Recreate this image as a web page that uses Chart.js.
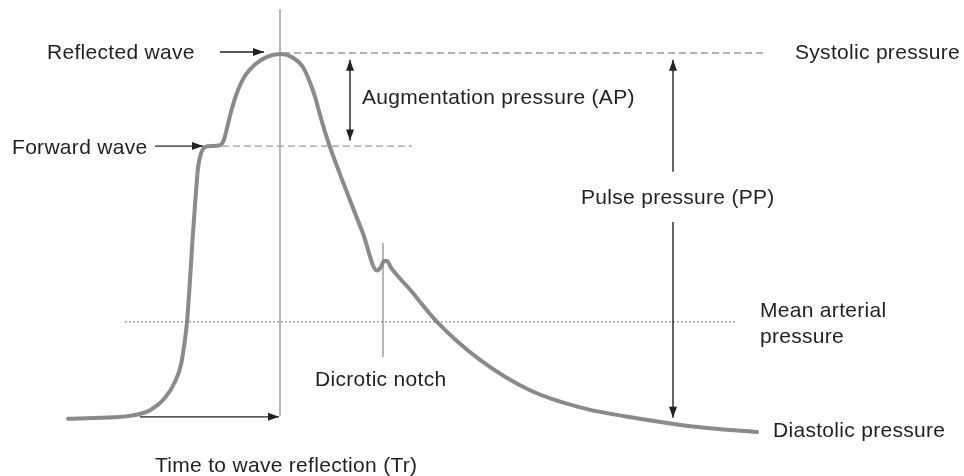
<!DOCTYPE html>
<html>
<head>
<meta charset="utf-8">
<script src="https://cdn.jsdelivr.net/npm/chart.js@4/dist/chart.umd.min.js"></script>
<style>
    body { margin: 0; background: #fff; }
    #wrap { width: 964px; height: 476px; }
</style>
</head>
<body>
<div id="wrap"><canvas id="myChart" width="964" height="476"></canvas></div>
<script>
// pressure waveform (time in arbitrary units, pressure in mmHg)
var waveTime = [68, 100, 130, 150, 165, 175, 181, 184, 187, 190, 193, 196, 198, 201, 205, 212, 220, 224, 227, 232, 238, 245, 255, 267, 280, 293, 303, 310, 315, 320, 325, 330, 350, 363, 377, 381, 384, 387, 391, 410, 437, 480, 530, 580, 640, 700, 757];
var wavePressure = [81.5, 81.6, 81.8, 82.4, 83.7, 85.4, 87.2, 89.1, 91.7, 96.1, 101.1, 105.4, 107.9, 109.4, 110.1, 110.2, 110.3, 110.9, 112.1, 114.2, 116.1, 117.6, 118.8, 119.6, 119.9, 119.5, 118.5, 116.9, 115.4, 113.5, 111.7, 110.1, 104.5, 101.0, 97.1, 97.5, 98.1, 98.1, 97.4, 95.1, 91.7, 87.7, 84.5, 82.7, 81.5, 80.6, 80.1];

// reference levels
var systolic = 120;
var diastolic = 80;
var forwardPeak = 110.2;
var meanArterial = 91.7;
var reflectionTime = 280;
var notchTime = 383;

// extents of the reference lines [start, end]
var systolicSpan = [283, 767];
var forwardSpan = [222, 412];
var meanSpan = [125, 737];
var reflectionSpan = [81.8, 124.6];
var notchSpan = [88.0, 100.0];

// labels: text, time, pressure (baseline)
var labelText = ["Reflected wave", "Forward wave", "Augmentation pressure (AP)", "Systolic pressure", "Pulse pressure (PP)", "Mean arterial", "pressure", "Diastolic pressure", "Dicrotic notch", "Time to wave reflection (Tr)"];
var labelTime = [47, 12, 362, 795, 581, 760, 760, 773, 315, 155];
var labelPressure = [119.4, 109.4, 114.6, 119.4, 104.1, 92.2, 89.5, 79.6, 85.0, 75.9];

// arrows: [t1, p1, t2, p2, heads]  heads: 1 = end, 2 = both
var arrows = [
    [220, 120.1, 264, 120.1, 1],
    [155, 110.2, 203, 110.2, 1],
    [140, 81.7, 279, 81.7, 1],
    [350, 110.8, 350, 119.3, 2],
    [673, 107.5, 673, 119.3, 1],
    [673, 102.2, 673, 81.6, 1],
];

var pxPerMmHg = 9.5;

function pts(xs, ys) {
    var out = [];
    for (var i = 0; i < xs.length; i++) out.push({ x: xs[i], y: ys[i] });
    return out;
}

function drawHead(ctx, x1, y1, x2, y2) {
    var a = Math.atan2(y2 - y1, x2 - x1);
    var len = 11, w = 4;
    ctx.beginPath();
    ctx.moveTo(x2, y2);
    ctx.lineTo(x2 - len * Math.cos(a) + w * Math.sin(a), y2 - len * Math.sin(a) - w * Math.cos(a));
    ctx.lineTo(x2 - len * Math.cos(a) - w * Math.sin(a), y2 - len * Math.sin(a) + w * Math.cos(a));
    ctx.closePath();
    ctx.fill();
}

var notesPlugin = {
    id: "notes",
    afterDatasetsDraw: function (chart) {
        var ctx = chart.ctx;
        var sx = chart.scales.x, sy = chart.scales.y;
        ctx.save();
        ctx.strokeStyle = "#222";
        ctx.fillStyle = "#222";
        ctx.lineWidth = 1.4;
        arrows.forEach(function (a) {
            var x1 = sx.getPixelForValue(a[0]), y1 = sy.getPixelForValue(a[1]);
            var x2 = sx.getPixelForValue(a[2]), y2 = sy.getPixelForValue(a[3]);
            ctx.beginPath();
            ctx.moveTo(x1, y1);
            ctx.lineTo(x2, y2);
            ctx.stroke();
            drawHead(ctx, x1, y1, x2, y2);
            if (a[4] == 2) drawHead(ctx, x2, y2, x1, y1);
        });
        ctx.font = '21px "Liberation Sans", Arial, sans-serif';
        ctx.letterSpacing = "0.3px";
        ctx.textAlign = "left";
        ctx.textBaseline = "alphabetic";
        ctx.fillStyle = "#231f20";
        for (var i = 0; i < labelText.length; i++) {
            ctx.fillText(labelText[i], sx.getPixelForValue(labelTime[i]), sy.getPixelForValue(labelPressure[i]));
        }
        ctx.restore();
    },
};

var ctx = document.getElementById("myChart").getContext("2d");
var myChart = new Chart(ctx, {
    type: "line",
    data: {
        datasets: [
            {
                label: "Systolic",
                data: pts(systolicSpan, [systolic, systolic]),
                borderColor: "#9a9a9a",
                borderWidth: 1.4,
                borderDash: [7, 4],
                pointRadius: 0,
            },
            {
                label: "Forward wave",
                data: pts(forwardSpan, [forwardPeak, forwardPeak]),
                borderColor: "#9a9a9a",
                borderWidth: 1.4,
                borderDash: [7, 4],
                pointRadius: 0,
            },
            {
                label: "Mean arterial",
                data: pts(meanSpan, [meanArterial, meanArterial]),
                borderColor: "#777",
                borderWidth: 1,
                borderDash: [2, 2],
                pointRadius: 0,
            },
            {
                label: "Tr",
                data: pts([reflectionTime, reflectionTime], reflectionSpan),
                borderColor: "#888",
                borderWidth: 1.2,
                pointRadius: 0,
            },
            {
                label: "Notch",
                data: pts([notchTime, notchTime], notchSpan),
                borderColor: "#888",
                borderWidth: 1.2,
                pointRadius: 0,
            },
            {
                label: "Pressure",
                data: pts(waveTime, wavePressure),
                borderColor: "#8a8a8a",
                borderWidth: 4,
                pointRadius: 0,
                cubicInterpolationMode: "monotone",
                borderCapStyle: "round",
                borderJoinStyle: "round",
            },
        ],
    },
    options: {
        responsive: false,
        animation: false,
        layout: { padding: 0 },
        plugins: {
            legend: { display: false },
            tooltip: { enabled: false },
        },
        scales: {
            x: { type: "linear", min: 0, max: 964, display: false },
            y: {
                type: "linear",
                min: diastolic - 43 / pxPerMmHg,
                max: systolic + 53 / pxPerMmHg,
                display: false,
            },
        },
    },
    plugins: [notesPlugin],
});
</script>
</body>
</html>
